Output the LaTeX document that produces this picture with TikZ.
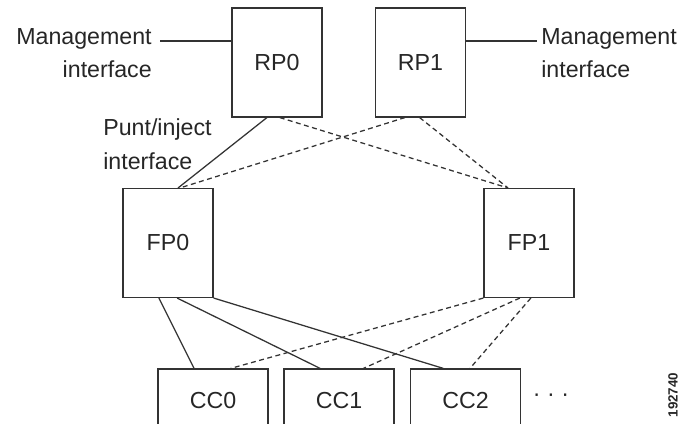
\documentclass[tikz,border=0pt]{standalone}
\usepackage{fontspec}
\setmainfont{Liberation Sans}
\usetikzlibrary{calc}

\begin{document}
\begin{tikzpicture}[x=0.025cm, y=-0.025cm,
    every node/.style={text=black!85},
    box/.style={draw=black!80, line width=0.9pt, inner sep=0pt, minimum width=2.25cm, minimum height=2.72cm, font=\fontsize{16.5}{17}\selectfont},
    cardbox/.style={box, minimum width=2.75cm, minimum height=1.55cm},
    txt/.style={inner sep=0pt, font=\fontsize{16.5}{24}\selectfont},
    active/.style={draw=black!80, line width=0.9pt},
    standby/.style={draw=black!80, line width=0.9pt, dash pattern=on 3.5pt off 2.5pt}]
  \useasboundingbox (0,0) rectangle (681,423);
  \clip (0,0) rectangle (681,423);

  \node[box] (rp0) at (277,62.5) {RP0};
  \node[box] (rp1) at (420.5,62.5) {RP1};
  \node[box] (fp0) at (168,243) {FP0};
  \node[box] (fp1) at (529,243) {FP1};
  \node[cardbox] (cc0) at (213,400) {CC0};
  \node[cardbox] (cc1) at (339,400) {CC1};
  \node[cardbox] (cc2) at (465.5,400) {CC2};
  \node[txt] (more) at (551,398) {· · ·};

  % management ports
  \node[txt, align=right, anchor=east] (mgmt0) at (152,53) {Management\\interface};
  \node[txt, align=left, anchor=west] (mgmt1) at (541,53) {Management\\interface};
  \coordinate (m0) at (160,41);
  \coordinate (m1) at (537,41);
  \draw[active] (m0) -- (m0 -| rp0.west);
  \draw[active] (rp1.east |- m1) -- (m1);

  % RP to FP
  \node[txt, align=left, anchor=west] (punt) at (103,144.5) {Punt/inject\\interface};
  \draw[active] ($(rp0.south west)!.39!(rp0.south east)$) -- ($(fp0.north west)!.61!(fp0.north east)$);
  \draw[standby] ($(rp0.south west)!.53!(rp0.south east)$) -- ($(fp1.north west)!.27!(fp1.north east)$);
  \draw[standby] ($(rp1.south west)!.33!(rp1.south east)$) -- ($(fp0.north west)!.63!(fp0.north east)$);
  \draw[standby] ($(rp1.south west)!.49!(rp1.south east)$) -- ($(fp1.north west)!.27!(fp1.north east)$);

  % FP to CC
  \draw[active] ($(fp0.south west)!.4!(fp0.south east)$) -- ($(cc0.north west)!.33!(cc0.north east)$);
  \draw[active] ($(fp0.south west)!.6!(fp0.south east)$) -- ($(cc1.north west)!.33!(cc1.north east)$);
  \draw[active] (fp0.south east) -- ($(cc2.north west)!.3!(cc2.north east)$);
  \draw[standby] (fp1.south west) -- ($(cc0.north west)!.66!(cc0.north east)$);
  \draw[standby] ($(fp1.south west)!.4!(fp1.south east)$) -- ($(cc1.north west)!.72!(cc1.north east)$);
  \draw[standby] ($(fp1.south west)!.52!(fp1.south east)$) -- ($(cc2.north west)!.54!(cc2.north east)$);

  \node[rotate=90, inner sep=0pt, font=\bfseries\fontsize{9.5}{10}\selectfont] (fig) at (673,395) {192740};
\end{tikzpicture}
\end{document}
